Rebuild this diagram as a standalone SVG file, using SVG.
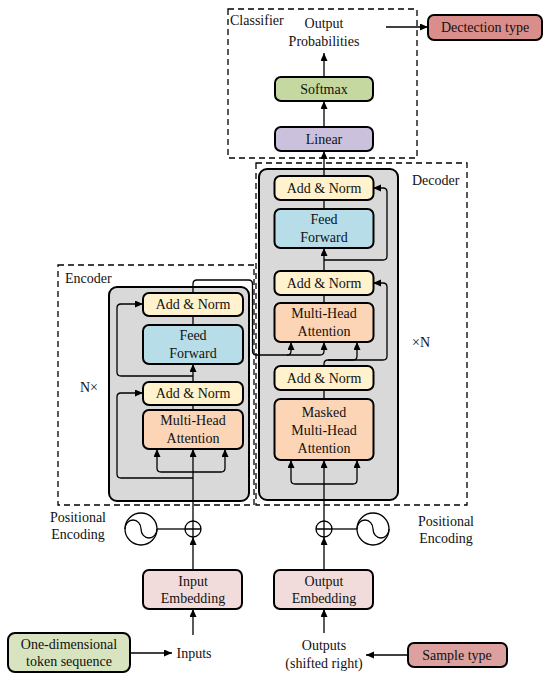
<svg xmlns="http://www.w3.org/2000/svg" width="550" height="680" viewBox="0 0 550 680" font-family="'Liberation Serif', serif" font-size="14">
<defs>
<marker id="ah" markerUnits="userSpaceOnUse" markerWidth="9" markerHeight="8" refX="8" refY="3.5" orient="auto">
<path d="M0,0 L8,3.5 L0,7 z" fill="#000"/>
</marker>
<style>
text{font-family:'Liberation Serif',serif;font-size:14px;fill:#111;}
.c{text-anchor:middle;}
.box{stroke:#000;stroke-width:2;}
.dash{fill:none;stroke:#000;stroke-width:1.3;stroke-dasharray:6,4;}
.grey{fill:#d9d9d9;stroke:#000;stroke-width:2;}
.ln{fill:none;stroke:#000;stroke-width:1.3;}
.ar{fill:none;stroke:#000;stroke-width:1.3;marker-end:url(#ah);}
.an{fill:#fff2cc;}
.ff{fill:#b7dde8;}
.mha{fill:#fbd5b5;}
.emb{fill:#f2dcdb;}
</style>
</defs>
<rect width="550" height="680" fill="#fff"/>

<g id="frames">
<rect class="dash" x="228" y="9" width="189" height="149"/>
<rect class="dash" x="58" y="265" width="196" height="240"/>
<rect class="dash" x="256" y="163" width="211" height="342"/>
<text x="230" y="25">Classifier</text>
<text x="65" y="283">Encoder</text>
<text x="412" y="185">Decoder</text>
<text x="80" y="392">N×</text>
<text x="412" y="347">×N</text>
</g>

<g id="encoder-block"><rect class="grey" x="109" y="287" width="140" height="214" rx="8"/></g>
<g id="decoder-block"><rect class="grey" x="259" y="169" width="139" height="331" rx="8"/></g>

<g id="connectors">
<path class="ar" d="M324,77 V53"/>
<path class="ar" d="M324,127 V101"/>
<path class="ar" d="M324,176 V151"/>
<path class="ar" d="M386,27 H428"/>
<path class="ln" d="M324,209 V200"/>
<path class="ar" d="M324,271 V248"/>
<path class="ar" d="M324,260 H383 Q387,260 387,256 V192 Q387,188 383,188 H373"/>
<path class="ln" d="M324,303 V295"/>
<path class="ar" d="M324,366 V364 Q324,360 328,360 H383 Q387,360 387,356 V287 Q387,283 383,283 H373"/>
<path class="ar" d="M328,360 H353 Q357,360 357,356 V342"/>
<path class="ln" d="M324,399 V390"/>
<path class="ar" d="M324,521 V460"/>
<path class="ar" d="M324,484 H295 Q291,484 291,480 V460"/>
<path class="ar" d="M324,484 H353 Q357,484 357,480 V460"/>
<path class="ar" d="M193,293 V284 Q193,280 197,280 H248.5 Q252.5,280 252.5,284 V351 Q252.5,355 256.5,355 H320 Q324,355 324,351 V342"/>
<path class="ar" d="M287,355 Q291,355 291,351 V342"/>
<path class="ln" d="M193,325 V316"/>
<path class="ar" d="M193,382 V364"/>
<path class="ar" d="M193,376 H121 Q117,376 117,372 V308 Q117,304 121,304 H143"/>
<path class="ln" d="M193,410 V405"/>
<path class="ar" d="M193,478 H121 Q117,478 117,474 V397 Q117,393 121,393 H143"/>
<path class="ar" d="M193,521 V449"/>
<path class="ar" d="M193,472 H161 Q157,472 157,468 V449"/>
<path class="ar" d="M193,472 H221 Q225,472 225,468 V449"/>
<path class="ln" d="M157,529 H185"/>
<path class="ln" d="M332,529 H357"/>
<path class="ar" d="M193,570 V537"/>
<path class="ar" d="M324,570 V537"/>
<path class="ar" d="M193,635 V609"/>
<path class="ar" d="M324,633 V609"/>
<path class="ar" d="M130,653 H172"/>
<path class="ar" d="M408,655 H366"/>
</g>

<g id="output-prob"><text class="c" x="324" y="28">Output</text><text class="c" x="324" y="46">Probabilities</text></g>
<g id="detection-type"><rect class="box" x="428" y="15" width="114" height="25" rx="6" fill="#d98e8b"/><text class="c" x="485" y="32">Dectection type</text></g>
<g id="softmax"><rect class="box" x="275" y="77" width="98" height="24" rx="6" fill="#c5d89f"/><text class="c" x="324" y="94">Softmax</text></g>
<g id="linear"><rect class="box" x="275" y="127" width="98" height="24" rx="6" fill="#ccc1dc"/><text class="c" x="324" y="144">Linear</text></g>

<g id="dec-addnorm-top"><rect class="box an" x="274.5" y="176" width="99" height="24" rx="6"/><text class="c" x="324" y="193">Add &amp; Norm</text></g>
<g id="dec-ff"><rect class="box ff" x="274.5" y="209" width="99" height="39" rx="6"/><text class="c" x="324" y="224">Feed</text><text class="c" x="324" y="242">Forward</text></g>
<g id="dec-addnorm-mid"><rect class="box an" x="274.5" y="271" width="99" height="24" rx="6"/><text class="c" x="324" y="288">Add &amp; Norm</text></g>
<g id="dec-mha"><rect class="box mha" x="274.5" y="303" width="99" height="39" rx="6"/><text class="c" x="324" y="318">Multi-Head</text><text class="c" x="324" y="336">Attention</text></g>
<g id="dec-addnorm-low"><rect class="box an" x="274.5" y="366" width="99" height="24" rx="6"/><text class="c" x="324" y="383">Add &amp; Norm</text></g>
<g id="dec-masked"><rect class="box mha" x="274.5" y="399" width="99" height="61" rx="6"/><text class="c" x="324" y="417">Masked</text><text class="c" x="324" y="435">Multi-Head</text><text class="c" x="324" y="453">Attention</text></g>

<g id="enc-addnorm-top"><rect class="box an" x="143" y="293" width="100" height="23" rx="6"/><text class="c" x="193" y="309">Add &amp; Norm</text></g>
<g id="enc-ff"><rect class="box ff" x="143" y="325" width="100" height="39" rx="6"/><text class="c" x="193" y="340">Feed</text><text class="c" x="193" y="358">Forward</text></g>
<g id="enc-addnorm-low"><rect class="box an" x="143" y="382" width="100" height="23" rx="6"/><text class="c" x="193" y="398">Add &amp; Norm</text></g>
<g id="enc-mha"><rect class="box mha" x="143" y="410" width="100" height="39" rx="6"/><text class="c" x="193" y="425">Multi-Head</text><text class="c" x="193" y="443">Attention</text></g>

<g id="enc-posenc">
<circle cx="141" cy="529" r="16" fill="#fff" stroke="#000" stroke-width="1.3"/>
<path class="ln" d="M125,529 A8,9 0 0 1 141,529 A8,9 0 0 0 157,529"/>
<text class="c" x="78" y="522">Positional</text><text class="c" x="78" y="539">Encoding</text>
</g>
<g id="enc-add"><circle cx="193" cy="529" r="8" fill="#fff" stroke="#000" stroke-width="1.3"/><path class="ln" d="M185,529 H201 M193,521 V537"/></g>
<g id="dec-posenc">
<circle cx="373" cy="529" r="16" fill="#fff" stroke="#000" stroke-width="1.3"/>
<path class="ln" d="M357,529 A8,9 0 0 1 373,529 A8,9 0 0 0 389,529"/>
<text class="c" x="446" y="526">Positional</text><text class="c" x="446" y="543">Encoding</text>
</g>
<g id="dec-add"><circle cx="324" cy="529" r="8" fill="#fff" stroke="#000" stroke-width="1.3"/><path class="ln" d="M316,529 H332 M324,521 V537"/></g>

<g id="input-embedding"><rect class="box emb" x="143" y="570" width="99" height="39" rx="6"/><text class="c" x="193" y="586">Input</text><text class="c" x="193" y="603">Embedding</text></g>
<g id="output-embedding"><rect class="box emb" x="274" y="570" width="99" height="39" rx="6"/><text class="c" x="324" y="586">Output</text><text class="c" x="324" y="603">Embedding</text></g>
<g id="inputs"><text class="c" x="194" y="658">Inputs</text></g>
<g id="outputs"><text class="c" x="324" y="650">Outputs</text><text class="c" x="324" y="668">(shifted right)</text></g>
<g id="token-seq"><rect class="box" x="8" y="633" width="122" height="39" rx="7" fill="#d8e4bf"/><text class="c" x="69" y="649">One-dimensional</text><text class="c" x="69" y="666">token sequence</text></g>
<g id="sample-type"><rect class="box" x="408" y="643" width="99" height="24" rx="6" fill="#dca19e"/><text class="c" x="457" y="660">Sample type</text></g>
</svg>
